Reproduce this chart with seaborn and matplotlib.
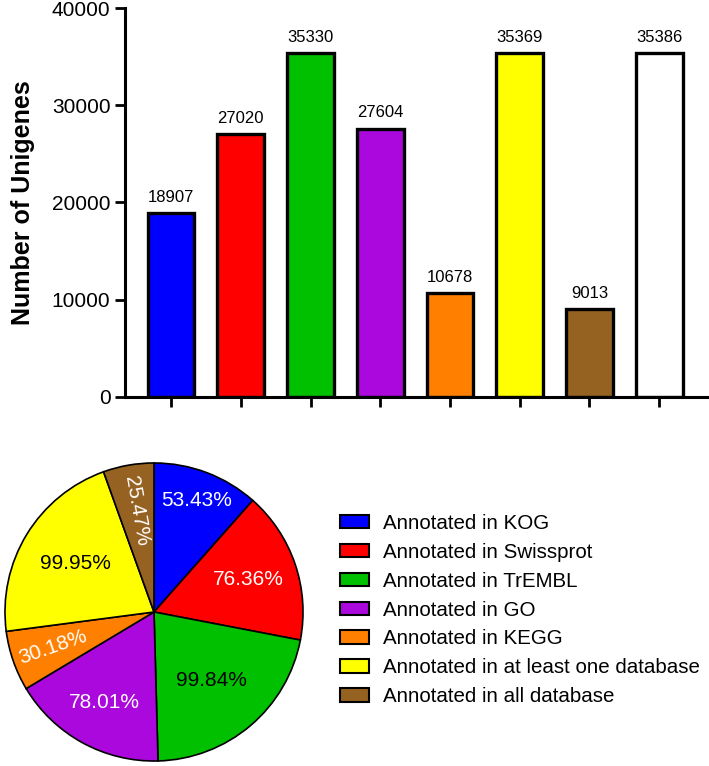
import numpy as np
import matplotlib
matplotlib.use("Agg")
import matplotlib.pyplot as plt
from matplotlib.patches import Patch
import seaborn as sns
import pandas as pd

# data
categories = ["KOG", "Swissprot", "TrEMBL", "GO", "KEGG", "at least one", "all", "total"]
unigenes = [18907, 27020, 35330, 27604, 10678, 35369, 9013, 35386]
bar_colors = ["#0000FF", "#FF0000", "#00C000", "#AA08DD", "#FF8000", "#FFFF00", "#956221", "#FFFFFF"]

pie_labels = ["Annotated in KOG", "Annotated in Swissprot", "Annotated in TrEMBL",
              "Annotated in GO", "Annotated in KEGG",
              "Annotated in at least one database", "Annotated in all database"]
pie_pct = [53.43, 76.36, 99.84, 78.01, 30.18, 99.95, 25.47]
pie_colors = bar_colors[:7]
pct_text_colors = ["white", "white", "black", "white", "white", "black", "white"]
# how far out each percentage sits (fraction of radius)
label_r = [0.8, 0.67, 0.6, 0.69, 0.72, 0.62, 0.69]

sns.set_style("ticks")
plt.rcParams["font.family"] = ["Liberation Sans", "DejaVu Sans"]
for k in ["text.color", "axes.labelcolor", "xtick.color", "ytick.color", "axes.edgecolor"]:
    plt.rcParams[k] = "black"

fig = plt.figure(figsize=(7.09, 7.66), dpi=100)

# ---- bar chart ----
ax = fig.add_axes([125 / 709, 1 - 397 / 766, 583 / 709, 389 / 766])
df = pd.DataFrame({"cat": categories, "n": unigenes})
sns.barplot(data=df, x="cat", y="n", hue="cat", palette=bar_colors, legend=False,
            width=0.67, edgecolor="black", linewidth=2.4, saturation=1, ax=ax)
for c in ax.containers:
    ax.bar_label(c, fmt="%d", padding=6, fontsize=12)
ax.set_ylim(0, 40000)
ax.set_xlim(-0.66, 7.7)
ax.set_yticks([0, 10000, 20000, 30000, 40000])
ax.set_xticklabels([])
ax.set_xlabel("")
ax.set_ylabel("Number of Unigenes", fontsize=18, fontweight="bold", labelpad=12)
ax.tick_params(axis="y", labelsize=15, width=2, length=7, direction="out")
ax.tick_params(axis="x", width=2, length=7, direction="out")
sns.despine(ax=ax)
for s in ["left", "bottom"]:
    ax.spines[s].set_linewidth(2.2)

# ---- pie chart ----
pax = fig.add_axes([2 / 709, 2 / 766, 304 / 709, 304 / 766])
wedges, _ = pax.pie(pie_pct, colors=pie_colors, startangle=90, counterclock=False,
                    wedgeprops=dict(edgecolor="black", linewidth=1.2))
pax.set_xlim(-1.02, 1.02)
pax.set_ylim(-1.02, 1.02)
pax.set_aspect("equal")
for i, (w, v) in enumerate(zip(wedges, pie_pct)):
    mid = np.deg2rad((w.theta1 + w.theta2) / 2)
    r = label_r[i]
    rot = np.rad2deg(mid) + 180 if v < 35 else 0
    pax.text(r * np.cos(mid), r * np.sin(mid), f"{v:.2f}%", ha="center", va="center",
             fontsize=15, color=pct_text_colors[i], rotation=rot, rotation_mode="anchor")

handles = [Patch(facecolor=c, edgecolor="black", linewidth=1.5) for c in pie_colors]
fig.legend(handles, pie_labels, loc="center left", bbox_to_anchor=(340 / 709, 1 - 610 / 766),
           frameon=False, fontsize=14.8, handlelength=1.4, handleheight=0.62,
           handletextpad=0.7, labelspacing=0.48, borderpad=0, borderaxespad=0)

fig.savefig("out.png", dpi=100)
